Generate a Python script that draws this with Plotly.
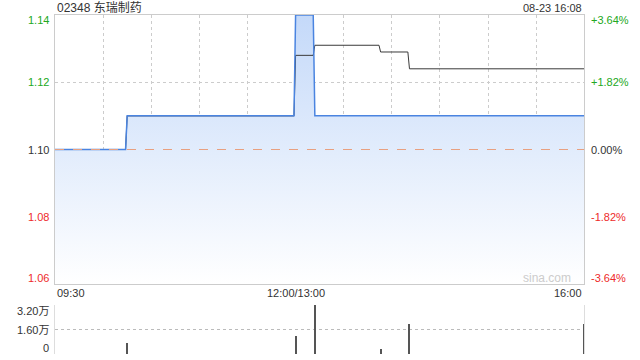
import plotly.graph_objects as go

# ---- data (minutes since 09:30 in trading time; 150 = 12:00/13:00, 330 = 16:00) ----
t_price = [0, 44, 45, 149, 150, 161, 162, 330]
price = [1.10, 1.10, 1.11, 1.11, 1.14, 1.14, 1.11, 1.11]
t_avg = [0, 44, 45, 149, 150, 161, 162, 202, 203, 220, 221, 330]
avg = [1.10, 1.10, 1.11, 1.11, 1.128, 1.128, 1.131, 1.131, 1.129, 1.129, 1.124, 1.124]
t_vol = [45, 150, 162, 203, 221, 330]
vol = [7300, 12000, 32000, 3400, 19700, 19700]
prev_close = 1.10
price_ticks = [1.14, 1.12, 1.10, 1.08, 1.06]
price_labels = ["1.14", "1.12", "1.10", "1.08", "1.06"]
pct_labels = ["+3.64%", "+1.82%", "0.00%", "-1.82%", "-3.64%"]
vol_ticks = [32000, 16000, 0]
vol_labels = ["3.20万", "1.60万", "0"]
time_ticks = [0, 150, 330]
time_labels = ["09:30", "12:00/13:00", "16:00"]
title = "02348 东瑞制药"
stamp = "08-23 16:08"

GREEN = "#22a822"
RED = "#ee2a2a"
DARK = "#333333"
FONT = "Liberation Sans, Arial, Noto Sans CJK SC, sans-serif"

X0, X1 = 55 / 640, 584.3 / 640

fig = go.Figure()

# filled area under price
fig.add_trace(go.Scatter(
    x=t_price, y=price, mode="lines", line=dict(width=0, color="rgba(0,0,0,0)"),
    fill="tozeroy",
    fillgradient=dict(type="vertical", start=1.06, stop=1.14,
                      colorscale=[[0, "rgba(255,255,255,1)"], [1, "rgba(196,217,249,1)"]]),
    hoverinfo="skip", showlegend=False, xaxis="x", yaxis="y"))
# average price line
fig.add_trace(go.Scatter(
    x=t_avg, y=avg, mode="lines", line=dict(width=1, color="#3a3a3a"),
    showlegend=False, xaxis="x", yaxis="y"))
# price line
fig.add_trace(go.Scatter(
    x=t_price, y=price, mode="lines", line=dict(width=1.5, color="#4a84e0"),
    showlegend=False, xaxis="x", yaxis="y"))
# volume bars
fig.add_trace(go.Bar(
    x=t_vol, y=vol, width=0.6, marker=dict(color="#555555", line=dict(width=0)),
    showlegend=False, xaxis="x2", yaxis="y2"))

grid_x = list(range(0, 331, 30))

fig.update_layout(
    width=640, height=360, autosize=False,
    margin=dict(l=0, r=0, t=0, b=0),
    paper_bgcolor="white", plot_bgcolor="white",
    font=dict(family=FONT, size=11, color=DARK),
    bargap=0,
    xaxis=dict(domain=[X0, X1], range=[0, 330], tickvals=grid_x, showticklabels=False,
               showgrid=True, gridcolor="#cccccc", griddash="dot", gridwidth=1,
               showline=True, linecolor="#cccccc", linewidth=1, mirror=True,
               zeroline=False, ticks="", fixedrange=True),
    yaxis=dict(domain=[(360 - 284) / 360, (360 - 15) / 360], range=[1.06, 1.14],
               tickvals=price_ticks, showticklabels=False,
               showgrid=True, gridcolor="#cccccc", griddash="dot", gridwidth=1,
               showline=True, linecolor="#cccccc", linewidth=1, mirror=True,
               zeroline=False, ticks=""),
    xaxis2=dict(domain=[X0, X1], range=[0, 330], anchor="y2", showticklabels=False,
                showgrid=False, showline=False, zeroline=False, ticks=""),
    yaxis2=dict(domain=[(360 - 354.3) / 360, (360 - 305) / 360], range=[0, 32000],
                anchor="x2", tickvals=vol_ticks, showticklabels=False,
                showgrid=True, gridcolor="#bbbbbb", griddash="dot", gridwidth=1,
                showline=True, linecolor="#dddddd", linewidth=1, mirror=True,
                zeroline=False, ticks=""),
)

# previous close reference line
fig.add_shape(type="line", xref="x", yref="y", x0=0, x1=330, y0=prev_close, y1=prev_close,
              line=dict(color="#e8a080", width=1, dash="dash"), layer="above")

ann = []
# title and timestamp
ann.append(dict(text=title, xref="paper", yref="paper", x=X0, y=(360 - 8) / 360,
                xanchor="left", yanchor="middle", showarrow=False,
                font=dict(size=12, color=DARK)))
ann.append(dict(text=stamp, xref="paper", yref="paper", x=X1, y=(360 - 8) / 360,
                xanchor="right", yanchor="middle", showarrow=False,
                font=dict(size=11, color=DARK)))
# price labels
n = len(price_ticks)
for i, (v, lab, pct) in enumerate(zip(price_ticks, price_labels, pct_labels)):
    col = GREEN if v > prev_close else (RED if v < prev_close else DARK)
    ys = -5 if i == 0 else (6 if i == n - 1 else 0)
    ann.append(dict(text=lab, xref="paper", yref="y", x=X0, y=v, xanchor="right",
                    yanchor="middle", xshift=-4, yshift=ys, showarrow=False,
                    font=dict(size=11, color=col)))
    ann.append(dict(text=pct, xref="paper", yref="y", x=X1, y=v, xanchor="left",
                    yanchor="middle", xshift=5, yshift=ys, showarrow=False,
                    font=dict(size=11, color=col)))
# volume labels
for i, (v, lab) in enumerate(zip(vol_ticks, vol_labels)):
    ys = -6 if i == 0 else (6 if i == len(vol_ticks) - 1 else 0)
    ann.append(dict(text=lab, xref="paper", yref="y2", x=X0, y=v, xanchor="right",
                    yanchor="middle", xshift=-4, yshift=ys, showarrow=False,
                    font=dict(size=11, color=DARK)))
# time labels
anchors = ["left", "center", "right"]
for t, lab, a in zip(time_ticks, time_labels, anchors):
    ann.append(dict(text=lab, xref="x", yref="paper", x=t, y=(360 - 293) / 360,
                    xanchor=a, yanchor="middle", showarrow=False,
                    font=dict(size=11, color=DARK)))
# watermark
ann.append(dict(text="sina.com", xref="paper", yref="paper", x=573 / 640, y=(360 - 278) / 360,
                xanchor="right", yanchor="middle", showarrow=False,
                font=dict(size=12, color="#cccccc")))
fig.update_layout(annotations=ann)

fig.write_html("out.html")
